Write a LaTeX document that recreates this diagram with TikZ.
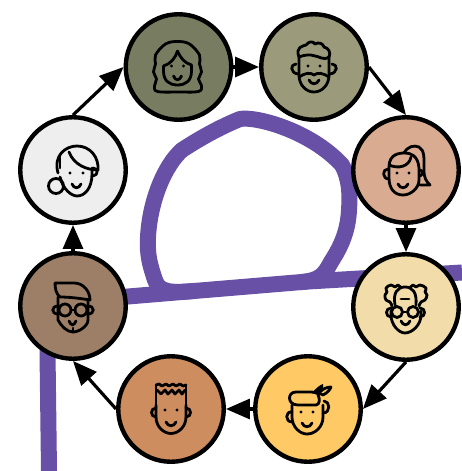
\documentclass[tikz,border=0pt]{standalone}
\usetikzlibrary{arrows.meta}
\definecolor{routecol}{HTML}{6750A6}
\tikzset{
	person/.style={circle,draw,line width=4.4pt,minimum size=105.5pt,inner sep=0pt},
	link/.style={line width=3.2pt,-{Triangle[length=24pt,width=20pt]}},
	route/.style={routecol,line width=16pt,line join=round},
	icon/.style={line width=2.8pt,line cap=round,line join=round}
}
\newcommand{\personeyes}[3]{\fill (#1,#3) circle (1.6) (#2,#3) circle (1.6);}
\newcommand{\personsmile}[3]{\draw (#1,#3) .. controls (#1+2,#3+5) and (#2-2,#3+5) .. (#2,#3);}
\begin{document}
\begin{tikzpicture}[x=1pt,y=-1pt]
	\useasboundingbox (0,0) rectangle (462,471);

	\draw[route] (49,471) -- (47.5,352) .. controls (47,320) and (70,301) .. (110,298) -- (308,281.5) -- (462,272.5);
	\draw[route] (195,290.9) .. controls (172,292.8) and (159,293) .. (155,280) .. controls (150,265) and (147,255) .. (148,237) .. controls (150,200) and (165,165) .. (182,150) .. controls (205,135) and (225,125) .. (240,119) .. controls (255,116) and (310,130) .. (342,165) .. controls (350,180) and (350,195) .. (349,210) .. controls (348,230) and (342,245) .. (331,262) .. controls (324,275) and (320,280.5) .. (300,282.2);

	\draw
	node[person,fill={rgb,255:red,120;green,125;blue,97}] at (178.5,67) (wavy) {}
	node[person,fill={rgb,255:red,155;green,155;blue,123}] at (314,67) (beard) {}
	node[person,fill={rgb,255:red,217;green,172;blue,146}] at (406,170) (ponytail) {}
	node[person,fill={rgb,255:red,242;green,220;blue,169}] at (406,307) (elder) {}
	node[person,fill={rgb,255:red,255;green,201;blue,102}] at (308,409) (feather) {}
	node[person,fill={rgb,255:red,206;green,141;blue,95}] at (171,409) (spiky) {}
	node[person,fill={rgb,255:red,157;green,127;blue,104}] at (73,306) (glasses) {}
	node[person,fill={rgb,255:red,238;green,238;blue,238}] at (73,170) (bun) {}
	;

	\draw[link] (bun.north) -- (wavy.west);
	\draw[link] (wavy.east) -- (beard.west);
	\draw[link] (beard.east) -- (ponytail.north);
	\draw[link] (ponytail.south) -- (elder.north);
	\draw[link] (elder.south) -- (feather.east);
	\draw[link] (feather.west) -- (spiky.east);
	\draw[link] (spiky.west) -- (glasses.south);
	\draw[link] (glasses.north) -- (bun.south);

	\begin{scope}[shift={(wavy.center)},icon]
		\draw plot[smooth cycle,tension=0.6] coordinates {(-21,24.5) (-24,19) (-22,12) (-25,5) (-23,-3) (-23,-12) (-13,-23) (-1,-25.5) (11,-23) (21,-12) (21,-3) (23,5) (20,12) (23,19) (20,24.5) (0,25)};
		\draw (-15,-1) -- (-15,4) .. controls (-15,14) and (-9,18) .. (-1,18) .. controls (7,18) and (13,14) .. (13,4) -- (13,-2) .. controls (6,-4) and (2,-9) .. (-1,-16) .. controls (-3,-9) and (-8,-3) .. (-15,-1);
		\personeyes{-7}{5}{-1}
		\personsmile{-5}{3}{9}
	\end{scope}

	\begin{scope}[shift={(beard.center)},icon]
		\draw (-15,-11) -- (-15,8) .. controls (-15,18) and (-8,25) .. (0,25) .. controls (8,25) and (15,18) .. (15,8) -- (15,-11);
		\draw (-15,-10) .. controls (-19,-20) and (-11,-21) .. (-8,-22) .. controls (-5,-26) and (-1,-26) .. (1,-23) .. controls (4,-25) and (9,-24) .. (10,-20) .. controls (15,-19) and (17,-14) .. (15,-10) .. controls (9,-6) and (5,-11) .. (1,-11) .. controls (-4,-13) and (-10,-12) .. (-15,-10);
		\draw (-18,-3) .. controls (-24,-3) and (-24,6) .. (-16,7);
		\draw (18,-3) .. controls (24,-3) and (24,6) .. (16,7);
		\draw (-15,10) .. controls (-9,6) and (-4,5) .. (0,8) .. controls (4,5) and (9,6) .. (15,10);
		\personeyes{-6}{6}{-1}
		\personsmile{-5}{5}{13}
	\end{scope}

	\begin{scope}[shift={(ponytail.center)},icon]
		\draw (-17,-3) .. controls (-17,-17) and (-5,-17) .. (-1,-17) .. controls (4,-17) and (12,-15) .. (13,-2) -- (13,10) .. controls (13,18) and (5,25) .. (-3,25) .. controls (-12,25) and (-17,18) .. (-17,8) -- (-17,-3);
		\draw (-17,-5) .. controls (-8,-1) and (3,-3) .. (5,-13);
		\draw (-2,-17) .. controls (2,-24) and (8,-25) .. (13,-23) .. controls (19,-20) and (18,-10) .. (18,0) .. controls (18,8) and (20,11) .. (24,15) -- (14,15);
		\draw (-18,-1) .. controls (-24,-1) and (-24,9) .. (-17,9);
		\draw (14,0) .. controls (17,0) and (17,5) .. (14,6);
		\personeyes{-9}{3}{3}
		\personsmile{-8}{2}{14}
	\end{scope}

	\begin{scope}[shift={(elder.center)},icon]
		\draw (-15,4) -- (-15,8) .. controls (-15,18) and (-7,26) .. (-1,26) .. controls (6,26) and (15,18) .. (15,8) -- (15,4);
		\draw (-11,-2) .. controls (-13,-14) and (-9,-20) .. (-1,-20) .. controls (7,-20) and (11,-14) .. (10,-2);
		\draw plot[smooth,tension=0.7] coordinates {(-14,-1) (-16,-5) (-20,-7) (-21,-12) (-19,-15) (-20,-19) (-15,-22) (-11,-20) (-8,-22) (-5,-19)};
		\draw plot[smooth,tension=0.7] coordinates {(13,-1) (15,-5) (19,-7) (21,-12) (19,-15) (20,-19) (14,-22) (10,-20) (7,-22) (4,-19)};
		\draw (-5,-8) -- (3,-8);
		\draw (-9,5) circle (5.5) (7,5) circle (5.5);
		\draw (-3.5,5) -- (1.5,5);
		\draw (-15,1) .. controls (-21,1) and (-21,10) .. (-15,10);
		\draw (14,1) .. controls (20,1) and (20,10) .. (14,10);
		\personsmile{-5}{4}{14}
	\end{scope}

	\begin{scope}[shift={(feather.center)},icon]
		\draw (-16,-4) -- (-16,8) .. controls (-16,18) and (-8,25) .. (-1,25) .. controls (7,25) and (15,18) .. (15,8) -- (15,-4);
		\draw (-10,-4) -- (8,-4) .. controls (12,-4) and (12,-11) .. (10,-14) -- (11,-15) .. controls (8,-17) and (4,-17) .. (0,-17) -- (-12,-17) .. controls (-21,-17) and (-21,-4) .. (-10,-4);
		\draw (-16,3) .. controls (-23,2) and (-23,13) .. (-16,13);
		\draw (16,-8) .. controls (22,-8) and (23,4) .. (15,4);
		\fill (4,-16) .. controls (8,-21) and (12,-24) .. (15,-25) .. controls (16,-21) and (14,-16) .. (10,-14) -- cycle;
		\draw (9,-17) -- (15,-14) .. controls (19,-16) and (22,-19) .. (23,-22) .. controls (19,-22) and (15,-20) .. (13,-18);
		\personeyes{-7}{5}{3}
		\personsmile{-6}{4}{14}
	\end{scope}

	\begin{scope}[shift={(spiky.center)},icon]
		\draw (-15,-24) -- (-15,-4) (15,-24) -- (15,-4);
		\draw (-15,-24) -- (-12,-25) -- (-9,-23) -- (-5,-25) -- (-2,-23) -- (2,-25) -- (5,-23) -- (9,-25) -- (12,-23) -- (15,-24);
		\draw (-14,-19) -- (-10,-15) -- (-6,-19) -- (-3,-15) -- (1,-19) -- (4,-15) -- (8,-19) -- (11,-15) -- (14,-19);
		\draw (-15,-4) -- (-15,8) .. controls (-15,18) and (-7,24.5) .. (0,24.5) .. controls (7,24.5) and (15,18) .. (15,8) -- (15,-4);
		\draw (-15,-1) .. controls (-21,-1) and (-21,8) .. (-15,8);
		\draw (15,-1) .. controls (21,-1) and (21,8) .. (15,8);
		\personeyes{-6}{6}{1}
		\personsmile{-5}{5}{13}
	\end{scope}

	\begin{scope}[shift={(glasses.center)},icon]
		\draw (-18,-23) -- (1,-23) .. controls (11,-23) and (17,-14) .. (17,-6) .. controls (5,-8) and (-5,-9) .. (-13,-9) .. controls (-17,-12) and (-18,-18) .. (-18,-23);
		\draw (-15,-9) -- (-15,14) .. controls (-12,20) and (-6,26) .. (0,26) .. controls (6,26) and (15,20) .. (15,14) -- (15,-7);
		\draw (-8,4) circle (6) (8,4) circle (6);
		\draw (-2,4) -- (2,4);
		\draw (-15,0) .. controls (-22,0) and (-22,8) .. (-15,8);
		\draw (15,0) .. controls (22,0) and (22,8) .. (15,8);
		\personsmile{-4}{3}{15}
		\draw (0,22) -- (0,26);
	\end{scope}

	\begin{scope}[shift={(bun.center)},icon]
		\draw (-13,7) .. controls (-10,20) and (-1,26) .. (4,26) .. controls (12,26) and (19,18) .. (19,4) -- (19,-2);
		\draw (-15,3) .. controls (-20,-15) and (-7,-24) .. (4,-24) .. controls (17,-24) and (26,-13) .. (25,0) .. controls (14,0) and (1,-5) .. (-4,-18);
		\draw (-13,-14) -- (-13,-2);
		\draw (-17,16) circle (7.5);
		\draw (20,-2) .. controls (25,-2) and (26,5) .. (20,6);
		\personeyes{-3}{10}{3}
		\personsmile{-1}{8}{14}
	\end{scope}
\end{tikzpicture}
\end{document}
